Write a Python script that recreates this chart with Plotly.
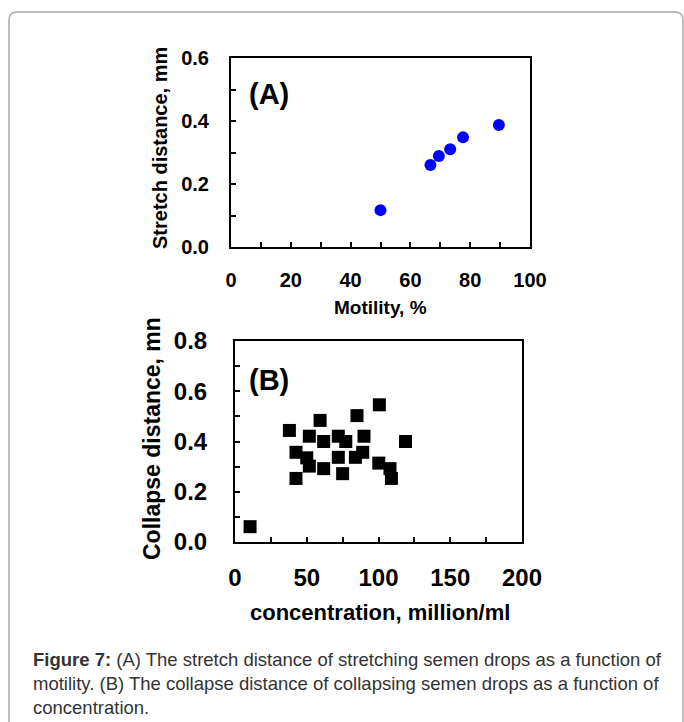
import plotly.graph_objects as go

W, H = 684, 722

# Panel A data
motility = [50, 66.7, 69.5, 73.3, 77.6, 89.6]
stretch = [0.118, 0.261, 0.290, 0.311, 0.349, 0.388]

# Panel B data
conc = [10.5, 37.9, 42.5, 42.5, 51.8, 50.0, 51.8, 59.3, 61.8, 61.8, 72.0, 77.2,
        72.0, 75.0, 85.0, 89.9, 89.0, 83.9, 100.6, 100.2, 108.0, 109.0, 118.8]
collapse = [0.061, 0.444, 0.357, 0.253, 0.421, 0.335, 0.302, 0.484, 0.400, 0.292, 0.421, 0.400,
            0.337, 0.272, 0.503, 0.421, 0.357, 0.337, 0.546, 0.314, 0.292, 0.253, 0.400]

FONT = "Liberation Sans, Arial, sans-serif"


def px(x):
    return x / W


def py(y):
    return 1 - y / H


fig = go.Figure()
fig.add_trace(go.Scatter(x=motility, y=stretch, mode="markers", xaxis="x", yaxis="y",
                         marker=dict(symbol="circle", size=12, color="#0000FF"),
                         showlegend=False, cliponaxis=False))
fig.add_trace(go.Scatter(x=conc, y=collapse, mode="markers", xaxis="x2", yaxis="y2",
                         marker=dict(symbol="square", size=13, color="#000000"),
                         showlegend=False, cliponaxis=False))

axis_common = dict(showline=True, linecolor="black", linewidth=2, mirror=True,
                   ticks="inside", ticklen=5, tickwidth=2, tickcolor="black",
                   showgrid=False, zeroline=False, fixedrange=True, automargin=False)

# Panel A axes
fig.update_layout(
    xaxis=dict(domain=[px(231), px(530)], anchor="y", range=[0, 100], dtick=20, tick0=0,
               minor=dict(dtick=10, ticks="inside", ticklen=5, tickwidth=2, tickcolor="black"),
               tickfont=dict(family=FONT, size=20, color="black", weight="bold"),
               ticklabelstandoff=14, **axis_common),
    yaxis=dict(domain=[py(247.3), py(58.3)], anchor="x", range=[0, 0.6], dtick=0.2, tick0=0,
               tickformat=".1f",
               minor=dict(dtick=0.1, ticks="inside", ticklen=5, tickwidth=2, tickcolor="black"),
               tickfont=dict(family=FONT, size=20, color="black", weight="bold"),
               ticklabelstandoff=16, **axis_common),
    xaxis2=dict(domain=[px(235), px(522)], anchor="y2", range=[0, 200], dtick=50, tick0=0,
                minor=dict(dtick=25, ticks="inside", ticklen=5, tickwidth=2, tickcolor="black"),
                tickfont=dict(family=FONT, size=24, color="black", weight="bold"),
                ticklabelstandoff=13, **axis_common),
    yaxis2=dict(domain=[py(542), py(341)], anchor="x2", range=[0, 0.8], dtick=0.2, tick0=0,
                tickformat=".1f",
                minor=dict(dtick=0.1, ticks="inside", ticklen=5, tickwidth=2, tickcolor="black"),
                tickfont=dict(family=FONT, size=24, color="black", weight="bold"),
                ticklabelstandoff=21, **axis_common),
)

center = dict(xref="paper", yref="paper", xanchor="center", yanchor="middle", showarrow=False)

annotations = [
    dict(text="Motility, %", x=px(380), y=py(308),
         font=dict(family=FONT, size=19, color="black", weight="bold"), **center),
    dict(text="Stretch distance, mm", x=px(160), y=py(148), textangle=-90,
         font=dict(family=FONT, size=20, color="black", weight="bold"), **center),
    dict(text="(A)", x=px(269), y=py(94),
         font=dict(family=FONT, size=29, color="black", weight="bold"), **center),
    dict(text="concentration, million/ml", x=px(380), y=py(612),
         font=dict(family=FONT, size=22, color="black", weight="bold"), **center),
    dict(text="Collapse distance, mn", x=px(152), y=py(439), textangle=-90,
         font=dict(family=FONT, size=23, color="black", weight="bold"), **center),
    dict(text="(B)", x=px(269), y=py(380),
         font=dict(family=FONT, size=29, color="black", weight="bold"), **center),
    dict(text="<b>Figure 7:</b> (A) The stretch distance of stretching semen drops as a function of<br>"
              "motility. (B) The collapse distance of collapsing semen drops as a function of<br>"
              "concentration.",
         x=px(31), y=py(647), xref="paper", yref="paper", xanchor="left", yanchor="top",
         align="left", showarrow=False,
         font=dict(family=FONT, size=18.5, color="#333333")),
]

border = (f"M {px(9)},{py(730)} L {px(9)},{py(20)} Q {px(9)},{py(12)} {px(17)},{py(12)} "
          f"L {px(675)},{py(12)} Q {px(683)},{py(12)} {px(683)},{py(20)} L {px(683)},{py(730)}")

fig.update_layout(
    width=W, height=H, margin=dict(l=0, r=0, t=0, b=0, autoexpand=False),
    paper_bgcolor="white", plot_bgcolor="white",
    annotations=annotations,
    shapes=[dict(type="path", path=border, xref="paper", yref="paper",
                 line=dict(color="#AAAAAA", width=1.5))],
)

fig.write_html("out.html", config={"displayModeBar": False},
               post_script="document.body.style.margin='0';document.body.style.overflow='hidden';")
